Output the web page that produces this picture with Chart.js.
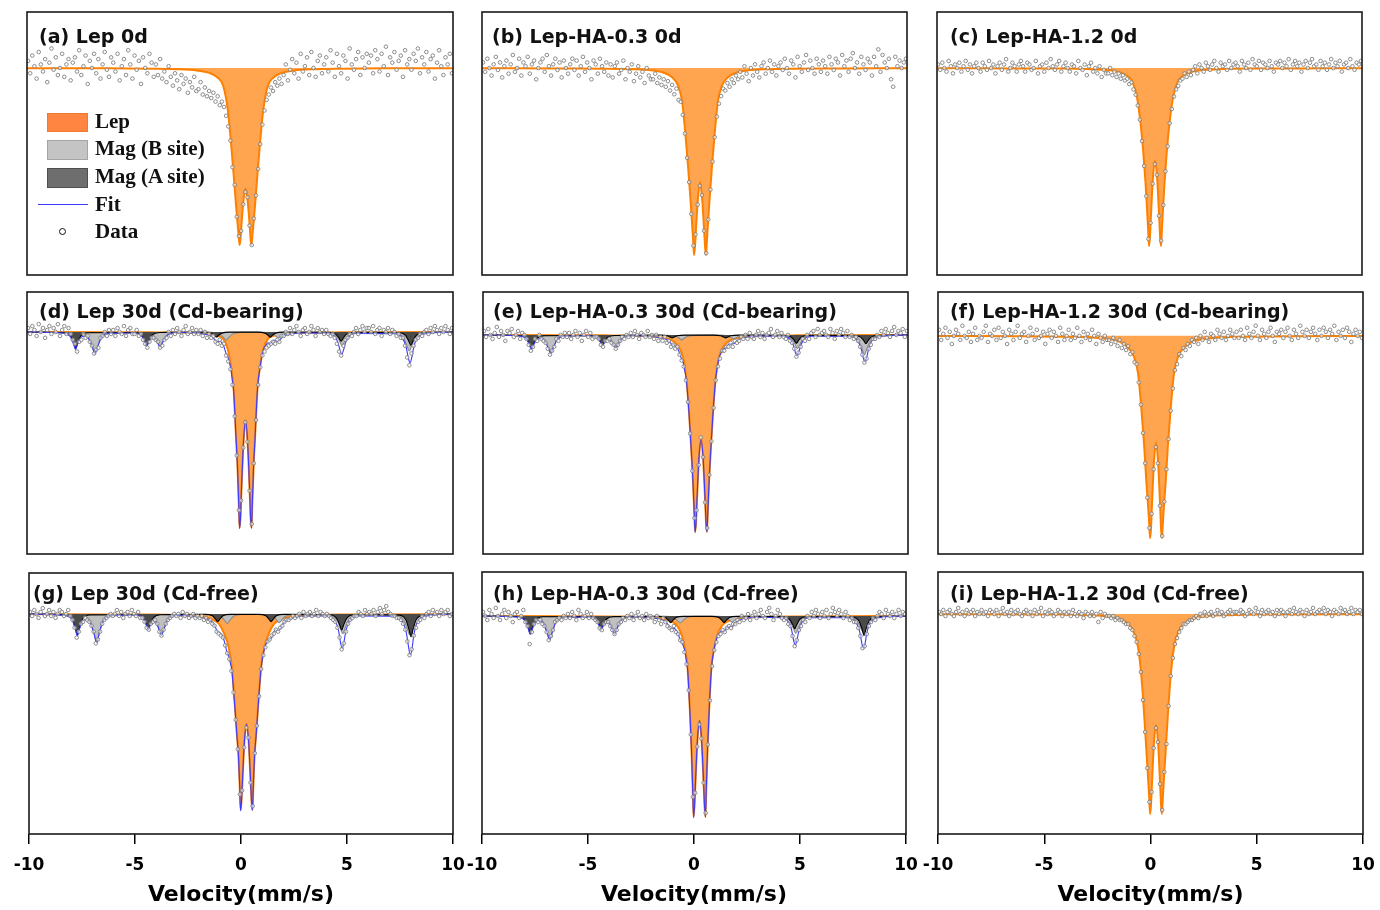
<!DOCTYPE html>
<html>
<head>
<meta charset="utf-8">
<script src="https://cdn.jsdelivr.net/npm/chart.js@4.4.1/dist/chart.umd.min.js"></script>
<style>
html, body { margin: 0; padding: 0; background: #fff; }
#page { position: relative; width: 1380px; height: 910px; overflow: hidden; }
canvas { position: absolute; }
.ttl { position: absolute; font: bold 19px "DejaVu Sans"; line-height: 19px; white-space: nowrap; color: #111; }
.lg { position: absolute; font: bold 21px "Liberation Serif"; line-height: 21px; white-space: nowrap; color: #111; }
.sw { position: absolute; left: 47px; width: 41px; box-sizing: border-box; }
</style>
</head>
<body>
<div id="page"></div>
<script>
// velocity channels of the measured points (mm/s)
const velocity = [
  -9.95,-9.85,-9.75,-9.65,-9.55,-9.45,-9.35,-9.25,-9.15,-9.05,-8.95,-8.85,-8.75,-8.65,-8.55,-8.45,-8.35,-8.25,-8.15,-8.05,
  -7.95,-7.85,-7.75,-7.65,-7.55,-7.45,-7.35,-7.25,-7.15,-7.05,-6.95,-6.85,-6.75,-6.65,-6.55,-6.45,-6.35,-6.25,-6.15,-6.05,
  -5.95,-5.85,-5.75,-5.65,-5.55,-5.45,-5.35,-5.25,-5.15,-5.05,-4.95,-4.85,-4.75,-4.65,-4.55,-4.45,-4.35,-4.25,-4.15,-4.05,
  -3.95,-3.85,-3.75,-3.65,-3.55,-3.45,-3.35,-3.25,-3.15,-3.05,-2.95,-2.85,-2.75,-2.65,-2.55,-2.45,-2.35,-2.25,-2.15,-2.05,
  -1.95,-1.85,-1.75,-1.65,-1.55,-1.45,-1.35,-1.25,-1.15,-1.05,-0.95,-0.85,-0.75,-0.65,-0.55,-0.45,-0.35,-0.25,-0.15,-0.05,
  0.05,0.15,0.25,0.35,0.45,0.55,0.65,0.75,0.85,0.95,1.05,1.15,1.25,1.35,1.45,1.55,1.65,1.75,1.85,1.95,
  2.05,2.15,2.25,2.35,2.45,2.55,2.65,2.75,2.85,2.95,3.05,3.15,3.25,3.35,3.45,3.55,3.65,3.75,3.85,3.95,
  4.05,4.15,4.25,4.35,4.45,4.55,4.65,4.75,4.85,4.95,5.05,5.15,5.25,5.35,5.45,5.55,5.65,5.75,5.85,5.95,
  6.05,6.15,6.25,6.35,6.45,6.55,6.65,6.75,6.85,6.95,7.05,7.15,7.25,7.35,7.45,7.55,7.65,7.75,7.85,7.95,
  8.05,8.15,8.25,8.35,8.45,8.55,8.65,8.75,8.85,8.95,9.05,9.15,9.25,9.35,9.45,9.55,9.65,9.75,9.85,9.95
];

// measured points, relative absorption in % of the deepest line of each panel
const aData = [
  4,-3,7,1,-6,9,2,-2,5,-8,3,11,-1,6,-4,0,8,-5,2,5,
  -7,3,6,-2,10,-4,1,7,-9,4,0,8,-3,5,-6,2,9,-1,-5,6,
  3,-2,8,-7,1,5,-4,10,2,-6,7,-1,4,-9,6,0,-3,8,3,-5,
  2,-4,5,-6,-2,-8,1,-5,-10,-3,-7,-12,-4,-9,-6,-14,-8,-11,-5,-13,
  -12,-8,-15,-11,-16,-13,-17,-14,-19,-16,-21,-19,-22,-27,-33,-41,-56,-66,-84,-95,
  -92,-77,-70,-73,-89,-100,-85,-72,-57,-43,-32,-24,-18,-15,-11,-13,-8,-10,-6,-9,
  -4,2,-7,-1,5,-3,3,-6,8,-2,1,6,-4,9,0,-5,4,7,-3,2,
  6,-2,10,3,-5,8,1,-3,7,4,-6,11,2,-1,5,9,-4,6,0,8,
  3,7,-3,10,5,-2,8,1,12,-4,6,3,9,-1,4,7,-5,10,2,5,
  -1,8,4,11,-3,6,2,9,-2,5,7,-6,3,10,1,-4,6,2,8,-3
];
const bData = [
  3,-2,5,0,-4,2,6,-1,3,-5,1,4,-3,2,7,-2,0,5,-4,3,
  1,6,-3,2,4,-6,0,3,5,-2,7,1,-4,2,5,-1,3,-5,4,0,
  -3,2,5,-1,4,-4,1,6,-2,3,0,-6,4,2,-3,5,1,-2,3,-4,
  2,-5,1,3,-3,-1,4,-6,0,-2,2,-7,-3,1,-5,-2,-8,0,-4,-6,
  -6,-3,-8,-5,-9,-6,-10,-7,-12,-9,-14,-11,-17,-18,-25,-35,-48,-61,-78,-95,
  -89,-73,-63,-68,-87,-99,-81,-65,-50,-37,-26,-19,-15,-11,-12,-8,-10,-6,-8,-4,
  -6,-2,-5,1,-3,-7,0,-4,2,-2,-5,1,3,-3,0,4,-2,2,-4,1,
  3,-1,5,0,-3,4,2,-5,6,1,-2,3,7,-1,4,0,-3,5,2,-2,
  4,1,-3,6,2,-1,5,3,-4,7,1,4,-2,5,8,0,3,-3,6,2,
  -1,5,3,-4,6,1,10,-2,7,3,0,5,-6,-10,6,1,4,0,3,5
];
const cData = [
  2,-1,3,0,-2,4,1,-3,2,0,3,-2,1,4,-1,2,-3,1,3,0,
  -2,3,1,-1,4,0,2,-3,1,3,-1,2,5,-2,0,3,1,-2,2,4,
  1,-2,3,2,-1,0,4,-3,1,2,-2,3,0,5,1,-1,2,4,-2,1,
  3,0,-2,2,1,-3,4,0,-1,2,-4,1,3,-2,0,-3,1,-5,-1,-3,
  -3,0,-4,-2,-5,-3,-6,-4,-7,-6,-9,-8,-12,-15,-21,-29,-41,-55,-72,-96,
  -87,-65,-54,-60,-83,-97,-77,-58,-44,-31,-23,-16,-12,-10,-7,-6,-3,-5,-2,-4,
  -1,1,-3,2,0,-2,3,1,-1,2,4,0,-2,3,1,2,-1,4,0,2,
  3,1,-2,4,2,0,3,-1,5,2,1,4,-1,3,2,0,4,1,-2,3,
  2,4,0,3,1,5,-1,2,4,1,3,-2,2,4,0,3,5,1,2,-1,
  4,1,3,-1,2,5,0,3,1,4,-2,2,3,0,5,1,-1,3,2,4
];
const dData = [
  2,-1,3,1,-2,4,0,2,-3,1,3,-1,2,0,4,-2,1,3,-1,2,
  -1,-4,-6,-10,-5,-4,-1,-3,-2,-5,-7,-11,-9,-8,-3,-2,0,-2,1,-1,
  1,-2,2,0,-1,3,-2,1,2,-1,-1,1,-2,-1,-4,-6,-8,-5,-3,-3,
  -4,-5,-8,-7,-4,-3,0,-2,1,-1,2,0,-2,1,3,-1,0,2,-1,1,
  -1,1,-2,0,-3,-1,-3,-2,-5,-6,-4,-7,-6,-12,-15,-19,-27,-43,-63,-91,
  -86,-59,-46,-56,-81,-98,-67,-45,-27,-18,-12,-10,-8,-7,-6,-5,-6,-4,-5,-2,
  -2,0,-1,2,-1,1,3,0,-2,1,2,-1,0,3,1,-2,2,0,1,-1,
  1,-1,-2,-1,-3,-6,-10,-12,-7,-4,-3,-1,-2,0,2,-1,1,3,0,2,
  2,0,3,-1,1,2,-2,1,0,2,-1,1,0,-2,-1,-3,-3,-7,-13,-17,
  -11,-7,-4,-3,-1,-2,0,1,-1,2,0,3,1,-1,2,0,3,1,-1,2
];
const eData = [
  2,-1,3,0,-2,1,4,-1,2,0,-3,2,1,3,-1,0,2,-2,1,0,
  -2,-5,-8,-6,-2,-3,0,-2,-3,-4,-7,-10,-8,-6,-2,-3,0,-1,1,-1,
  1,-2,0,2,-1,1,-3,0,2,-1,1,-2,-1,-1,-2,-5,-6,-3,-3,-2,
  -4,-5,-7,-5,-3,-1,-2,0,-1,1,-1,2,0,-2,1,0,-1,2,-1,0,
  -2,0,-3,-1,-3,-1,-4,-3,-6,-5,-7,-6,-10,-13,-16,-23,-34,-50,-69,-93,
  -89,-66,-52,-62,-85,-98,-71,-54,-37,-23,-16,-12,-8,-8,-6,-6,-4,-6,-3,-4,
  -3,-1,-2,0,-2,1,-1,-2,0,2,-1,1,-2,0,1,3,-1,0,2,-1,
  1,-1,-2,0,-3,-4,-7,-11,-9,-6,-2,-3,0,-2,1,2,-1,3,0,1,
  2,0,-1,3,1,-2,2,0,3,1,-1,2,-1,0,-2,-1,-3,-6,-10,-14,
  -12,-7,-5,-2,-2,0,-1,2,0,3,1,-1,2,4,0,2,1,3,-1,2
];
const fData = [
  3,-2,1,4,-1,2,-4,0,3,1,-2,5,0,-1,2,-3,1,4,-2,0,
  -1,2,5,-3,1,0,3,-2,4,-1,2,0,-4,3,1,-2,2,5,-1,1,
  2,-3,0,4,1,-2,3,-1,0,2,-4,1,3,-1,2,0,-3,4,1,-2,
  0,3,-2,1,-1,4,0,-3,2,-1,1,-2,3,0,-4,1,-1,-3,0,-2,
  -2,-4,-1,-3,-5,-2,-6,-4,-7,-5,-9,-8,-13,-14,-23,-34,-48,-63,-80,-95,
  -88,-66,-55,-63,-84,-99,-82,-66,-51,-37,-26,-17,-14,-9,-10,-6,-7,-4,-5,-2,
  -3,-1,-4,0,-2,2,-1,-3,1,0,-2,3,1,-1,2,-2,0,3,1,-1,
  2,-1,3,0,-2,4,1,-1,2,5,0,-2,3,1,-1,2,4,0,-3,2,
  1,3,-1,2,4,0,-2,3,1,-1,5,2,0,3,-1,2,4,1,-2,3,
  0,4,2,-1,3,1,5,-2,2,0,3,-1,4,2,-3,1,3,0,2,-1
];
const gData = [
  1,-1,2,0,-2,1,3,-1,0,2,-1,1,-2,0,2,1,-1,0,2,-1,
  -3,-7,-12,-9,-5,-4,-2,-3,-4,-6,-9,-15,-13,-9,-5,-3,-2,-1,0,-1,
  0,2,-1,1,-2,0,1,-1,2,0,-1,1,-2,-2,-4,-7,-8,-5,-4,-3,
  -5,-9,-11,-8,-5,-3,-2,-1,0,-1,0,-2,1,-1,0,-2,-1,0,-2,-1,
  -2,-1,-3,-2,-4,-3,-5,-6,-9,-10,-11,-12,-16,-20,-23,-29,-40,-54,-69,-92,
  -90,-68,-58,-63,-86,-98,-71,-57,-42,-28,-21,-17,-14,-13,-11,-10,-8,-9,-7,-6,
  -4,-3,-3,-2,-1,-2,-1,0,-2,1,-1,0,1,-1,0,2,-1,1,0,-1,
  0,-1,-2,-3,-4,-7,-12,-18,-15,-9,-5,-3,-2,-1,-1,1,0,-1,2,0,
  1,0,2,-1,1,3,0,2,4,1,0,-1,-1,-2,-2,-3,-5,-8,-14,-21,
  -18,-11,-7,-4,-3,-1,-2,0,1,-1,2,0,1,-1,2,0,1,2,-1,0
];
const hData = [
  2,0,-2,3,1,-1,4,0,-2,1,3,-1,2,0,-3,1,2,-1,0,3,
  -3,-5,-14,-8,-4,-2,-3,-2,-4,-5,-8,-12,-10,-7,-3,-2,-1,-2,0,-1,
  1,-1,2,0,-2,3,1,-1,0,2,-1,1,-1,-2,-3,-6,-7,-4,-3,-3,
  -5,-7,-9,-7,-4,-3,-1,-2,0,-1,1,-2,0,2,-1,0,-2,1,-1,0,
  -1,-3,0,-2,-4,-1,-3,-5,-6,-7,-5,-8,-9,-12,-13,-18,-24,-37,-59,-90,
  -88,-65,-54,-61,-83,-98,-64,-42,-25,-17,-13,-10,-9,-7,-8,-6,-5,-6,-4,-4,
  -2,-3,0,-2,-1,1,-2,0,2,-1,1,3,0,-1,2,4,1,-2,0,3,
  1,-1,-2,-1,-4,-5,-10,-15,-12,-7,-5,-2,-3,0,-1,2,0,3,1,-1,
  2,0,3,-1,1,4,2,0,3,1,-1,2,0,-2,-1,-3,-3,-6,-10,-16,
  -15,-9,-5,-3,-1,-2,0,2,1,-1,3,1,0,2,-1,1,3,0,2,1
];
const iData = [
  1,0,2,-1,1,2,0,-1,1,3,0,1,-1,2,0,1,2,-1,1,0,
  2,0,1,-1,2,1,0,2,-1,1,3,0,1,-1,2,0,1,2,0,-1,
  1,2,0,1,-1,2,0,1,3,-1,1,0,2,1,-1,0,2,1,-1,1,
  0,1,-1,2,0,-1,1,0,-2,1,0,-1,1,-1,0,-4,1,-2,0,-1,
  -1,-2,-1,-3,-2,-3,-3,-4,-5,-5,-7,-8,-11,-14,-20,-29,-43,-59,-77,-94,
  -89,-67,-57,-64,-85,-98,-79,-65,-46,-31,-22,-15,-12,-9,-7,-5,-5,-4,-3,-3,
  -2,-1,-2,0,-1,1,-1,0,1,-1,0,2,0,1,-1,0,1,2,0,1,
  1,0,2,1,-1,0,2,1,0,3,1,-1,2,0,1,2,0,1,-1,2,
  0,2,1,-1,1,2,0,3,1,0,2,1,-1,2,0,1,3,0,1,2,
  1,3,0,2,1,-1,2,1,0,3,1,2,0,1,3,0,2,1,2,0
];

// lepidocrocite doublet, read at these velocities
const lepV = [-10,-6.24,-4.24,-2.94,-2.04,-1.44,-1.04,-0.79,-0.58,-0.43,-0.3,-0.19,-0.12,-0.06,-0.02,0.02,0.06,0.16,0.26,
  0.36,0.46,0.5,0.54,0.58,0.64,0.71,0.82,0.95,1.1,1.31,1.56,1.96,2.56,3.46,4.76,6.76,10];
const aLep = [-0.1,-0.2,-0.4,-0.7,-1.4,-2.8,-5.5,-10,-23,-41,-60,-77,-87,-95,-100,-97,-90,-75,-68,-75,-90,-97,-100,-95,-87,-77,-60,-41,-23,-10,-5.5,-2.8,-1.4,-0.7,-0.4,-0.2,-0.1];
const bLep = [-0.1,-0.2,-0.3,-0.6,-1.2,-2.5,-5,-9,-18,-35,-53,-70,-82,-93,-100,-96,-88,-70,-61,-70,-88,-96,-100,-93,-82,-70,-53,-35,-18,-9,-5,-2.5,-1.2,-0.6,-0.3,-0.2,-0.1];
const cLep = [-0.1,-0.2,-0.3,-0.6,-1.1,-2.2,-4.5,-8,-17,-30,-46,-64,-78,-92,-100,-95,-85,-62,-52,-62,-85,-95,-100,-92,-78,-64,-46,-30,-17,-8,-4.5,-2.2,-1.1,-0.6,-0.3,-0.2,-0.1];
const dLep = [0,-0.1,-0.2,-0.3,-0.5,-1,-2,-3.5,-8.5,-17,-29,-53,-68,-87,-100,-95,-83,-57,-45,-57,-83,-95,-100,-87,-68,-53,-29,-17,-8.5,-3.5,-2,-1,-0.5,-0.3,-0.2,-0.1,0];
const eLep = [0,-0.1,-0.2,-0.4,-0.8,-1.6,-3.2,-6,-11.5,-22,-40,-60,-74,-90,-100,-96,-86,-63,-53,-63,-86,-96,-100,-90,-74,-60,-40,-22,-11.5,-6,-3.2,-1.6,-0.8,-0.4,-0.2,-0.1,0];
const fLep = [-0.1,-0.2,-0.4,-0.7,-1.5,-3,-6,-10,-19,-36,-54,-73,-83,-93,-100,-96,-86,-63,-53,-63,-86,-96,-100,-93,-83,-73,-54,-36,-19,-10,-6,-3,-1.5,-0.7,-0.4,-0.2,-0.1];
const gLep = [-0.1,-0.2,-0.3,-0.6,-1.2,-2.5,-5,-10,-17,-27,-45,-62,-72,-88,-100,-96,-87,-65,-56,-65,-87,-96,-100,-88,-72,-62,-45,-27,-17,-10,-5,-2.5,-1.2,-0.6,-0.3,-0.2,-0.1];
const hLep = [0,-0.1,-0.2,-0.4,-0.7,-1.4,-2.8,-5,-9.5,-16,-26,-48,-66,-86,-100,-95,-85,-62,-52,-62,-85,-95,-100,-86,-66,-48,-26,-16,-9.5,-5,-2.8,-1.4,-0.7,-0.4,-0.2,-0.1,0];
const iLep = [-0.1,-0.2,-0.3,-0.6,-1.2,-2.5,-5,-9,-17,-31,-50,-69,-81,-92,-100,-96,-87,-65,-55.5,-65,-87,-96,-100,-92,-81,-69,-50,-31,-17,-9,-5,-2.5,-1.2,-0.6,-0.3,-0.2,-0.1];

// magnetite sextets (A site dark, B site light)
const magAV = [-10,
  -8.32,-7.97,-7.82,-7.72,-7.62,-7.47,-7.12,
  -4.98,-4.63,-4.48,-4.38,-4.28,-4.13,-3.78,
  -1.7,-1.35,-1.2,-1.1,-1.0,-0.85,-0.5,
  0.82,1.17,1.32,1.42,1.52,1.67,2.02,
  4.15,4.5,4.65,4.75,4.85,5.0,5.35,
  7.42,7.77,7.92,8.02,8.12,8.27,8.62,
  10];
const magBV = [-10,
  -7.51,-7.11,-6.93,-6.81,-6.69,-6.51,-6.11,
  -4.45,-4.05,-3.87,-3.75,-3.63,-3.45,-3.05,
  -1.35,-0.95,-0.77,-0.65,-0.53,-0.35,0.05,
  1.1,1.5,1.68,1.8,1.92,2.1,2.5,
  4.1,4.5,4.68,4.8,4.92,5.1,5.5,
  7.25,7.65,7.83,7.95,8.07,8.25,8.65,
  10];
const dMagA = [0,-0.4,-2.0,-5.6,-8.5,-5.6,-2.0,-0.4,-0.3,-1.6,-4.5,-6.8,-4.5,-1.6,-0.3,-0.1,-0.6,-1.7,-2.6,-1.7,-0.6,-0.1,
  -0.1,-0.6,-1.7,-2.6,-1.7,-0.6,-0.1,-0.2,-1.1,-3.1,-4.7,-3.1,-1.1,-0.2,-0.3,-1.7,-4.6,-6.9,-4.6,-1.7,-0.3,0];
const dMagB = [0,-0.7,-2.9,-7.6,-11,-7.6,-2.9,-0.7,-0.4,-1.9,-5.0,-7.3,-5.0,-1.9,-0.4,-0.2,-1.1,-2.8,-4.1,-2.8,-1.1,-0.2,
  -0.2,-0.8,-2.1,-3.1,-2.1,-0.8,-0.2,-0.4,-1.8,-4.8,-7.0,-4.8,-1.8,-0.4,-0.6,-2.5,-6.7,-9.7,-6.7,-2.5,-0.6,0];
const eMagA = [0,-0.4,-1.7,-4.6,-7,-4.6,-1.7,-0.4,-0.3,-1.2,-3.3,-5,-3.3,-1.2,-0.3,-0.1,-0.4,-1.0,-1.5,-1.0,-0.4,-0.1,
  -0.1,-0.4,-1.0,-1.5,-1.0,-0.4,-0.1,-0.2,-1.0,-2.8,-4.2,-2.8,-1.0,-0.2,-0.2,-1.1,-2.9,-4.4,-2.9,-1.1,-0.2,0];
const eMagB = [0,-0.6,-2.4,-6.4,-9.3,-6.4,-2.4,-0.6,-0.4,-1.7,-4.4,-6.4,-4.4,-1.7,-0.4,-0.2,-0.7,-1.7,-2.5,-1.7,-0.7,-0.2,
  -0.1,-0.5,-1.4,-2.0,-1.4,-0.5,-0.1,-0.4,-1.8,-4.7,-6.8,-4.7,-1.8,-0.4,-0.6,-2.6,-6.9,-10,-6.9,-2.6,-0.6,0];
const gMagA = [0,-0.5,-2.6,-7.1,-10.7,-7.1,-2.6,-0.5,-0.4,-1.8,-4.8,-7.3,-4.8,-1.8,-0.4,-0.2,-0.9,-2.6,-3.9,-2.6,-0.9,-0.2,
  -0.2,-0.9,-2.6,-3.9,-2.6,-0.9,-0.2,-0.4,-2.0,-5.4,-8.2,-5.4,-2.0,-0.4,-0.6,-2.8,-7.7,-11.6,-7.7,-2.8,-0.6,0];
const gMagB = [0,-0.9,-3.7,-9.9,-14.4,-9.9,-3.7,-0.9,-0.6,-2.8,-7.4,-10.7,-7.4,-2.8,-0.6,-0.3,-1.2,-3.3,-4.8,-3.3,-1.2,-0.3,
  -0.3,-1.2,-3.1,-4.5,-3.1,-1.2,-0.3,-0.6,-2.6,-6.9,-10,-6.9,-2.6,-0.6,-0.6,-2.7,-7.2,-10.5,-7.2,-2.7,-0.6,0];
const hMagA = [0,-0.4,-2.1,-5.8,-8.8,-5.8,-2.1,-0.4,-0.3,-1.5,-4.2,-6.3,-4.2,-1.5,-0.3,-0.2,-0.8,-2.2,-3.3,-2.2,-0.8,-0.2,
  -0.2,-0.8,-2.2,-3.3,-2.2,-0.8,-0.2,-0.3,-1.5,-4.2,-6.3,-4.2,-1.5,-0.3,-0.5,-2.3,-6.3,-9.6,-6.3,-2.3,-0.5,0];
const hMagB = [0,-0.7,-3.0,-8.1,-11.7,-8.1,-3.0,-0.7,-0.5,-2.3,-6.1,-8.8,-6.1,-2.3,-0.5,-0.2,-0.9,-2.4,-3.5,-2.4,-0.9,-0.2,
  -0.2,-0.8,-2.1,-3.0,-2.1,-0.8,-0.2,-0.5,-2.2,-5.9,-8.6,-5.9,-2.2,-0.5,-0.5,-2.0,-5.2,-7.5,-5.2,-2.0,-0.5,0];

// total fit
const fitV = [-10,-8.32,-7.97,-7.82,-7.72,-7.62,-7.47,-7.3,-7.12,-6.93,-6.81,-6.69,-6.51,-6.11,
  -4.98,-4.63,-4.48,-4.38,-4.28,-4.13,-4.0,-3.87,-3.75,-3.63,-3.45,
  -2.94,-2.04,-1.7,-1.44,-1.35,-1.2,-1.1,-1.0,-0.92,-0.85,-0.77,-0.65,-0.58,-0.53,-0.43,-0.35,-0.3,-0.19,-0.12,-0.06,
  -0.02,0.02,0.06,0.16,0.26,0.36,0.46,0.5,0.54,0.58,0.64,0.71,0.82,0.95,1.1,1.2,1.31,1.42,1.52,1.62,1.72,1.8,1.92,
  2.02,2.1,2.5,3.0,
  4.12,4.45,4.6,4.7,4.78,4.86,4.95,5.1,5.45,
  7.3,7.62,7.8,7.9,7.98,8.06,8.15,8.27,8.63,10];
const dFit = [0,-0.6,-2.3,-5.9,-8.9,-6.1,-2.8,-2.2,-3.2,-7.9,-11.2,-7.7,-2.9,-0.7,
  -0.5,-1.9,-4.9,-7.4,-5.2,-2.9,-3.3,-5.5,-7.6,-5.3,-2.0,
  -0.3,-0.6,-1.1,-1.6,-2.1,-3.7,-5.0,-4.8,-4.9,-5.6,-7.0,-11.1,-12.3,-14.2,-18.8,-25.6,-29.9,-53.5,-68.4,-87.4,
  -100.3,-95.3,-83.2,-57.2,-45.2,-57,-83.1,-95.1,-100.1,-87.1,-68.2,-53.2,-29.2,-17.3,-9.1,-7.1,-5.5,-5.9,-4.8,-4.3,-4.7,-4.8,-3.4,
  -2.3,-1.8,-0.8,-0.5,
  -0.7,-2.3,-5.4,-9.5,-11.4,-9.2,-5.7,-2.5,-0.7,
  -0.9,-3.0,-7.7,-13.0,-15.8,-13.3,-8.1,-4.0,-1.0,0];
const eFit = [0,-0.5,-1.9,-4.9,-7.4,-5.1,-2.3,-1.8,-2.7,-6.6,-9.5,-6.5,-2.4,-0.6,
  -0.4,-1.5,-3.7,-5.5,-3.9,-2.4,-2.8,-4.8,-6.6,-4.6,-1.8,
  -0.4,-0.9,-1.4,-1.9,-2.5,-3.8,-4.9,-5.1,-5.9,-6.8,-8.5,-12.4,-13.8,-16.8,-23.1,-33,-40.6,-60.3,-74.3,-90.2,
  -100.2,-96.2,-86.2,-63.1,-53.1,-63,-86,-96,-100,-90,-74.1,-60.1,-40.2,-22.2,-11.9,-9.3,-7.2,-6.6,-5.2,-4.5,-4.6,-4.4,-3.2,
  -2.4,-2.0,-1.0,-0.6,
  -0.6,-2.2,-5.0,-8.9,-10.7,-8.7,-5.4,-2.4,-0.7,
  -0.9,-2.8,-7.2,-11.9,-13.8,-11.3,-6.9,-3.5,-0.9,0];
const gFit = [0,-0.8,-2.9,-7.5,-11.3,-7.7,-3.6,-2.8,-4.2,-10.3,-14.7,-10.1,-3.7,-0.9,
  -0.6,-2.2,-5.4,-8.1,-5.9,-3.7,-4.5,-7.9,-11,-7.6,-2.9,
  -0.7,-1.5,-2.2,-3.3,-4.2,-6.9,-9.2,-9.4,-10.4,-11.9,-14.6,-19.9,-21.5,-23.8,-29.1,-39.5,-46.1,-62.6,-72.5,-88.4,
  -100.4,-96.3,-87.3,-65.2,-56.2,-65.1,-87.1,-96.1,-100.1,-88.1,-72.2,-62.3,-45.4,-27.5,-17.9,-14.9,-13.0,-12.5,-9.7,-8.1,-8.4,-8.4,-6.1,
  -4.4,-3.5,-1.7,-1.0,
  -1.0,-3.6,-8.4,-14.9,-17.7,-14.1,-8.6,-3.8,-1.0,
  -1.2,-3.7,-9.6,-16.5,-20.9,-18.2,-11.0,-5.3,-1.3,0];
const hFit = [0,-0.6,-2.4,-6.2,-9.2,-6.4,-2.9,-2.3,-3.4,-8.3,-11.9,-8.2,-3.0,-0.7,
  -0.5,-1.9,-4.7,-7.0,-5.0,-3.1,-3.8,-6.5,-9.1,-6.3,-2.4,
  -0.4,-0.9,-1.4,-2.1,-2.7,-4.7,-6.4,-6.0,-6.2,-6.9,-8.3,-11.9,-12.8,-14.2,-17.5,-23.2,-26.8,-48.5,-66.4,-86.3,
  -100.3,-95.2,-85.2,-62.2,-52.2,-62.1,-85.1,-95.1,-100.1,-86.1,-66.2,-48.2,-26.3,-16.4,-10.2,-8.6,-7.4,-7.9,-6.2,-5.2,-5.3,-5.4,-3.8,
  -2.7,-2.2,-1.0,-0.6,
  -0.9,-2.9,-6.8,-12.2,-14.5,-11.7,-7.2,-3.1,-0.9,
  -0.9,-2.8,-7.2,-12.6,-16.1,-14.2,-8.6,-4.1,-1.0,0];

const titles = ['(a) Lep 0d', '(b) Lep-HA-0.3 0d', '(c) Lep-HA-1.2 0d',
  '(d) Lep 30d (Cd-bearing)', '(e) Lep-HA-0.3 30d (Cd-bearing)', '(f) Lep-HA-1.2 30d (Cd-bearing)',
  '(g) Lep 30d (Cd-free)', '(h) Lep-HA-0.3 30d (Cd-free)', '(i) Lep-HA-1.2 30d (Cd-free)'];
const xTicks = [-10, -5, 0, 5, 10];
const xTitle = 'Velocity(mm/s)';
const yMin = [-116.9, -110.7, -116.3, -113.3, -111.2, -107.9, -112.2, -108.5, -110];
const yMax = [31.6, 30, 31.5, 20.4, 21.8, 21.7, 20.9, 21.9, 21];

const pointsY = [aData, bData, cData, dData, eData, fData, gData, hData, iData];
const lepY = [aLep, bLep, cLep, dLep, eLep, fLep, gLep, hLep, iLep];
const magAY = [null, null, null, dMagA, eMagA, null, gMagA, hMagA, null];
const magBY = [null, null, null, dMagB, eMagB, null, gMagB, hMagB, null];
const fitY = [null, null, null, dFit, eFit, null, gFit, hFit, null];

// page layout: plot frame left, top, right, bottom; title left, top
const boxes = [[27,12,453,275],[482,12,907,275],[937,12,1362,275],
  [27,292,453,554],[483,292,908,554],[938,292,1363,554],
  [29,573,453,834],[482,572,906,834],[938,572,1363,834]];
const titlePos = [[39,27],[492,27],[950,27],[39,302],[493,302],[950,302],[33,584],[493,584],[950,584]];

const page = document.getElementById('page');

function xy(xs, ys) {
  return xs.map(function (x, k) { return { x: x, y: ys[k] }; });
}

const framePlugin = {
  id: 'frame',
  afterDatasetsDraw: function (chart) {
    const a = chart.chartArea, ctx = chart.ctx;
    ctx.save();
    ctx.strokeStyle = '#1a1a1a';
    ctx.lineWidth = 1.6;
    ctx.strokeRect(a.left, a.top, a.right - a.left, a.bottom - a.top);
    ctx.restore();
  }
};

boxes.forEach(function (box, n) {
  const l = box[0], t = box[1], r = box[2], b = box[3];
  const bottomRow = n >= 6;
  const padT = 6, padS = 30, padB = bottomRow ? 0 : 6;
  const w = r - l + 2 * padS;
  const h = bottomRow ? 910 - (t - padT) : (b - t) + padT + padB;

  const cv = document.createElement('canvas');
  cv.width = w; cv.height = h;
  cv.style.left = (l - padS) + 'px';
  cv.style.top = (t - padT) + 'px';
  cv.style.width = w + 'px';
  cv.style.height = h + 'px';
  page.appendChild(cv);

  const sets = [];
  sets.push({
    label: 'Data', data: xy(velocity, pointsY[n]), showLine: false,
    pointRadius: 1.8, pointBorderWidth: 0.9, pointBorderColor: '#808080',
    pointBackgroundColor: 'rgba(255,255,255,0.6)', order: 0
  });
  if (fitY[n]) {
    sets.push({
      label: 'Fit', data: xy(fitV, fitY[n]), borderColor: '#3a3aff', borderWidth: 1.1,
      pointRadius: 0, fill: false, cubicInterpolationMode: 'monotone', order: 1
    });
  }
  if (magAY[n]) {
    sets.push({
      label: 'Mag (A site)', data: xy(magAV, magAY[n]), borderColor: '#000', borderWidth: 1.1,
      backgroundColor: '#4a4a4a', pointRadius: 0, fill: { value: 0 },
      cubicInterpolationMode: 'monotone', order: 2
    });
  }
  if (magBY[n]) {
    sets.push({
      label: 'Mag (B site)', data: xy(magBV, magBY[n]), borderColor: '#8a8a8a', borderWidth: 1.1,
      backgroundColor: '#c0c0c0', pointRadius: 0, fill: { value: 0 },
      cubicInterpolationMode: 'monotone', order: 3
    });
  }
  sets.push({
    label: 'Lep', data: xy(lepV, lepY[n]), borderColor: '#ff8000', borderWidth: 2,
    backgroundColor: '#ffa54f', pointRadius: 0, fill: { value: 0 },
    cubicInterpolationMode: 'monotone', order: 4
  });

  const xScale = {
    type: 'linear', min: -10, max: 10, display: bottomRow,
    afterBuildTicks: function (s) { s.ticks = xTicks.map(function (v) { return { value: v }; }); },
    ticks: { autoSkip: false, maxRotation: 0, padding: 11, color: '#000',
      font: { family: 'DejaVu Sans', size: 17, weight: 'bold' } },
    grid: { drawOnChartArea: false, drawTicks: true, tickLength: 10, color: '#000', lineWidth: 1.5 },
    border: { display: false },
    title: { display: true, text: xTitle, color: '#000', padding: { top: 0, bottom: 2 },
      font: { family: 'DejaVu Sans', size: 22, weight: 'bold' } }
  };
  if (bottomRow) xScale.afterFit = function (s) { s.height = 76; };

  new Chart(cv.getContext('2d'), {
    type: 'line',
    data: { datasets: sets },
    options: {
      responsive: false,
      animation: false,
      devicePixelRatio: 1,
      events: [],
      layout: { padding: { left: padS, right: padS, top: padT, bottom: padB } },
      plugins: { legend: { display: false }, tooltip: { enabled: false } },
      scales: {
        x: xScale,
        y: { display: false, min: yMin[n], max: yMax[n] }
      }
    },
    plugins: [framePlugin]
  });

  const tt = document.createElement('div');
  tt.className = 'ttl';
  tt.textContent = titles[n];
  tt.style.left = titlePos[n][0] + 'px';
  tt.style.top = titlePos[n][1] + 'px';
  page.appendChild(tt);
});

// legend inside panel (a)
function addDiv(cls, css, text) {
  const d = document.createElement('div');
  d.className = cls;
  d.style.cssText = css;
  if (text) d.textContent = text;
  page.appendChild(d);
}
addDiv('sw', 'top:113px;height:19px;background:#ff8540;border:1px solid #f07a30;');
addDiv('sw', 'top:140px;height:20px;background:#c4c4c4;border:1px solid #a4a4a4;');
addDiv('sw', 'top:168px;height:20px;background:#6e6e6e;border:1px solid #4e4e4e;');
addDiv('', 'position:absolute;left:38px;top:204px;width:50px;height:1px;background:#3c3cff;');
addDiv('', 'position:absolute;left:59px;top:228px;width:5px;height:5px;border:1.5px solid #111;border-radius:50%;');
addDiv('lg', 'left:95px;top:111px;', 'Lep');
addDiv('lg', 'left:95px;top:138px;', 'Mag (B site)');
addDiv('lg', 'left:95px;top:166px;', 'Mag (A site)');
addDiv('lg', 'left:95px;top:194px;', 'Fit');
addDiv('lg', 'left:95px;top:221px;', 'Data');
</script>
</body>
</html>
